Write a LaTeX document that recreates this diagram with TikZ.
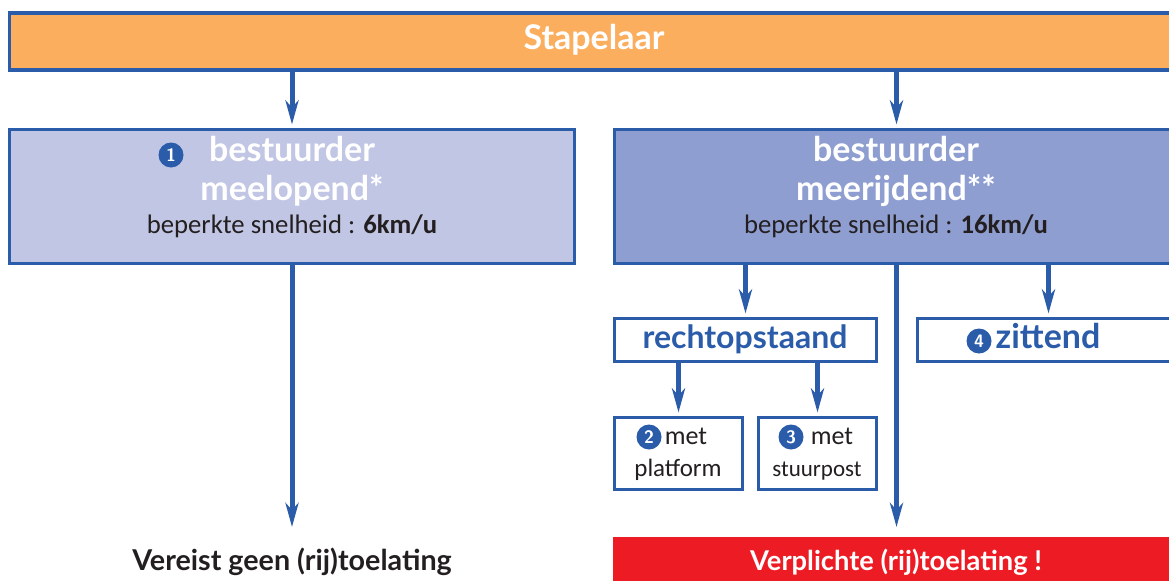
\documentclass[tikz,border=0pt]{standalone}
\usepackage{fontspec}
\setmainfont{Carlito}
\newfontfamily\kop{Lato}
\usetikzlibrary{arrows.meta}
\definecolor{lijn}{HTML}{2A5CAA}
\definecolor{oranje}{HTML}{FBAE5E}
\definecolor{licht}{HTML}{C1C6E4}
\definecolor{donker}{HTML}{8F9ED0}
\definecolor{rood}{HTML}{ED1C24}
\definecolor{tekst}{HTML}{231F20}
\tikzset{
  x=1pt,y=-1pt,
  bx/.style={draw=lijn,line width=3.2pt,minimum width=#1,inner sep=0pt,outer sep=0pt,anchor=north west},
  arr/.style={draw=lijn,line width=5pt,-{Stealth[length=24pt,width=13pt,inset=7pt]},shorten >=5pt},
  txt/.style={inner sep=0pt,anchor=base},
  head/.style={txt,font=\fontsize{34}{34}\selectfont\kop\bfseries,text=white},
  sub/.style={txt,font=\fontsize{#1}{26}\selectfont,text=tekst},
  blue/.style={txt,font=\fontsize{#1}{33}\selectfont\kop\bfseries,text=lijn},
  num/.style={circle,fill=lijn,text=white,inner sep=0pt,outer sep=0pt,minimum size=#1,font=\fontsize{18}{18}\selectfont\bfseries\sffamily}
}
\begin{document}
\begin{tikzpicture}
\useasboundingbox (0,0) rectangle (1169,581);
\node[bx=1170pt,minimum height=57pt,fill=oranje] (top) at (9.5,13) {};
\node[bx=565pt,minimum height=134pt,fill=licht] (mee) at (9.5,129.5) {};
\node[bx=564pt,minimum height=134pt,fill=donker] (rij) at (614.5,129.5) {};
\node[bx=262pt,minimum height=43pt,fill=white] (recht) at (614.5,318.5) {};
\node[bx=262pt,minimum height=43pt,fill=white] (zit) at (917.5,318.5) {};
\node[bx=128pt,minimum height=72pt,fill=white] (plat) at (614.5,417.5) {};
\node[bx=118pt,minimum height=72pt,fill=white] (stuur) at (758.5,417.5) {};
\node[minimum width=566pt,minimum height=44pt,inner sep=0pt,outer sep=0pt,anchor=north west,fill=rood] (rood) at (613,537) {};
\coordinate (eindL) at (292,532);
\coordinate (eindR) at (896,532);
\draw[arr] (top.south -| mee.north) -- (mee.north);
\draw[arr] (top.south -| rij.north) -- (rij.north);
\draw[arr] (mee.south) -- (mee.south |- eindL);
\draw[arr] (rij.south) -- (rij.south |- eindR);
\draw[arr] (rij.south -| recht.north) -- (recht.north);
\draw[arr] (rij.south -| zit.north) -- (zit.north);
\draw[arr] (recht.south -| plat.north) -- (plat.north);
\draw[arr] (recht.south -| stuur.north) -- (stuur.north);
\node[head] (t0) at (594,49) {Stapelaar};
\node[head] (t1) at (292,161) {bestuurder};
\node[head] (t2) at (292,200) {meelopend*};
\node[sub=26.7] (t3) at (292,233) {beperkte snelheid : \textbf{6km/u}};
\node[num=25pt] (n1) at (171,155) {1};
\node[head] (t4) at (896,161) {bestuurder};
\node[head] (t5) at (896,200) {meerijdend**};
\node[sub=26.7] (t6) at (896,233) {beperkte snelheid : \textbf{16km/u}};
\node[blue=32] (t7) at (745,348) {rechtopstaand};
\node[blue=34] (t8) at (1048,348) {zittend};
\node[num=25pt] (n4) at (979,341) {4};
\node[num=25pt] (n2) at (649,437) {2};
\node[sub=26] (t9) at (686,444) {met};
\node[sub=25] (t10) at (678,476) {platform};
\node[num=25pt] (n3) at (791,437) {3};
\node[sub=26] (t11) at (832,444) {met};
\node[sub=23] (t12) at (817,476) {stuurpost};
\node[txt,font=\fontsize{28.7}{27}\selectfont\kop\bfseries,text=tekst] (t13) at (292,570) {Vereist geen (rij)toelating};
\node[txt,font=\fontsize{27.3}{27}\selectfont\kop\bfseries,text=white] (t14) at (896,570) {Verplichte (rij)toelating !};
\end{tikzpicture}
\end{document}
